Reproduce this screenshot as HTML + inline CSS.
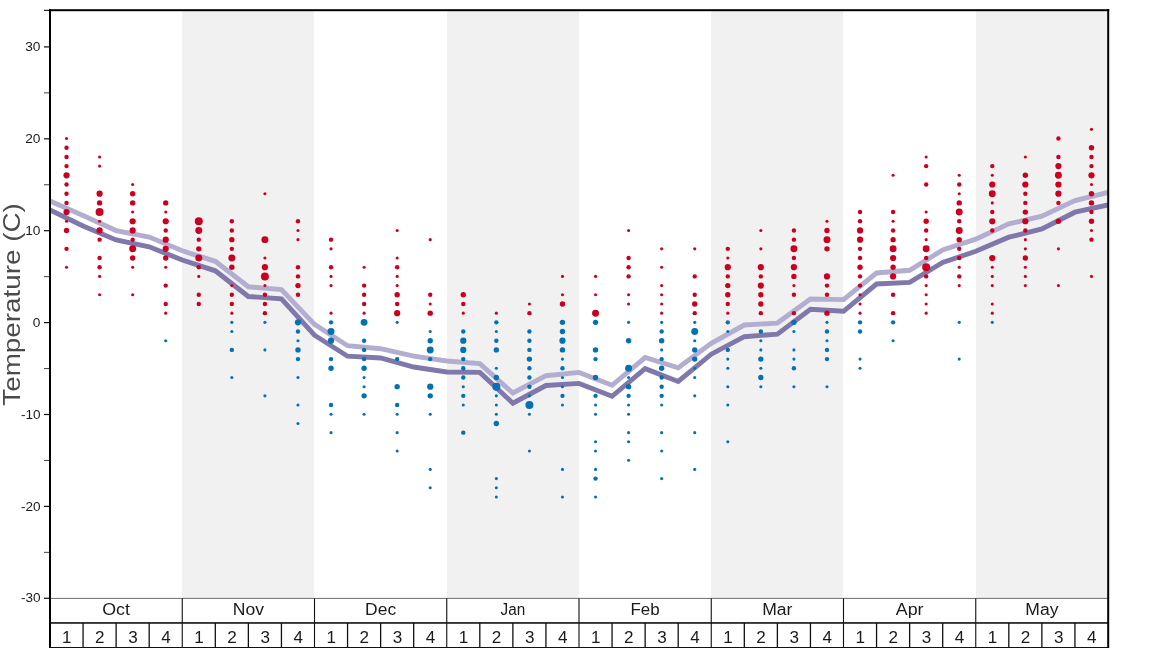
<!DOCTYPE html>
<html lang="en"><head><meta charset="utf-8"><title>Temperature chart</title>
<style>html,body{margin:0;padding:0;background:#fff;}body{width:1168px;height:648px;overflow:hidden;font-family:"Liberation Sans",sans-serif;}svg{display:block;will-change:transform;filter:grayscale(0);}text{font-family:"Liberation Sans",sans-serif;}</style></head><body>
<svg width="1168" height="648" viewBox="0 0 1168 648">
<defs><clipPath id="ax"><rect x="50.00" y="10.00" width="1058.00" height="588.40"/></clipPath></defs>
<rect x="0" y="0" width="1168" height="648" fill="#ffffff"/>
<g fill="#f1f1f1">
<rect x="182" y="10.00" width="132" height="588.40"/>
<rect x="447" y="10.00" width="132" height="588.40"/>
<rect x="711" y="10.00" width="132" height="588.40"/>
<rect x="976" y="10.00" width="132" height="588.40"/>
</g>
<g clip-path="url(#ax)" fill="none" stroke-linejoin="miter" stroke-miterlimit="10" stroke-linecap="butt" stroke-width="4.90">
<polyline stroke="#8077ab" points="50.00,210.00 83.06,226.00 116.12,240.00 149.19,246.75 182.25,260.00 215.31,270.80 248.38,296.50 281.44,298.80 314.50,335.20 347.56,356.20 380.62,358.00 413.69,367.00 446.75,372.00 479.81,372.40 512.88,403.20 545.94,385.50 579.00,383.40 612.06,396.30 645.12,368.60 678.19,381.50 711.25,354.20 744.31,336.70 777.38,334.10 810.44,309.30 843.50,311.30 876.56,284.00 909.62,282.40 942.69,262.50 975.75,251.30 1008.81,237.20 1041.88,229.00 1074.94,212.20 1108.00,205.00"/>
<polyline stroke="#b3aed0" points="50.00,201.00 83.06,215.60 116.12,230.60 149.19,237.10 182.25,250.80 215.31,261.30 248.38,286.80 281.44,289.50 314.50,324.40 347.56,345.70 380.62,348.70 413.69,356.20 446.75,361.00 479.81,363.60 512.88,393.00 545.94,375.70 579.00,372.40 612.06,385.30 645.12,357.50 678.19,367.80 711.25,343.30 744.31,325.00 777.38,323.10 810.44,299.00 843.50,299.60 876.56,273.00 909.62,270.30 942.69,250.00 975.75,239.20 1008.81,223.80 1041.88,216.20 1074.94,200.50 1108.00,192.50"/>
</g>
<g fill="#ca0020"><circle cx="66.53" cy="138.55" r="1.55"/><circle cx="66.53" cy="147.74" r="2.20"/><circle cx="66.53" cy="156.93" r="2.20"/><circle cx="66.53" cy="166.12" r="2.20"/><circle cx="66.53" cy="175.31" r="3.11"/><circle cx="66.53" cy="184.50" r="2.20"/><circle cx="66.53" cy="193.69" r="2.20"/><circle cx="66.53" cy="202.88" r="2.20"/><circle cx="66.53" cy="212.07" r="3.11"/><circle cx="66.53" cy="221.26" r="1.55"/><circle cx="66.53" cy="230.45" r="2.69"/><circle cx="66.53" cy="248.83" r="2.20"/><circle cx="66.53" cy="267.21" r="1.55"/><circle cx="99.59" cy="156.93" r="1.55"/><circle cx="99.59" cy="166.12" r="1.55"/><circle cx="99.59" cy="193.69" r="3.11"/><circle cx="99.59" cy="202.88" r="2.69"/><circle cx="99.59" cy="212.07" r="4.00"/><circle cx="99.59" cy="221.26" r="1.55"/><circle cx="99.59" cy="230.45" r="3.11"/><circle cx="99.59" cy="239.64" r="2.20"/><circle cx="99.59" cy="258.02" r="2.20"/><circle cx="99.59" cy="267.21" r="2.20"/><circle cx="99.59" cy="276.40" r="1.55"/><circle cx="99.59" cy="294.78" r="1.55"/><circle cx="132.66" cy="184.50" r="1.55"/><circle cx="132.66" cy="193.69" r="2.69"/><circle cx="132.66" cy="202.88" r="2.69"/><circle cx="132.66" cy="212.07" r="1.55"/><circle cx="132.66" cy="221.26" r="3.11"/><circle cx="132.66" cy="230.45" r="3.11"/><circle cx="132.66" cy="239.64" r="2.20"/><circle cx="132.66" cy="248.83" r="3.47"/><circle cx="132.66" cy="258.02" r="2.69"/><circle cx="132.66" cy="267.21" r="1.55"/><circle cx="132.66" cy="294.78" r="1.55"/><circle cx="165.72" cy="202.88" r="2.69"/><circle cx="165.72" cy="212.07" r="1.55"/><circle cx="165.72" cy="221.26" r="3.11"/><circle cx="165.72" cy="230.45" r="2.20"/><circle cx="165.72" cy="239.64" r="3.11"/><circle cx="165.72" cy="248.83" r="3.11"/><circle cx="165.72" cy="258.02" r="2.69"/><circle cx="165.72" cy="267.21" r="1.55"/><circle cx="165.72" cy="285.59" r="2.20"/><circle cx="165.72" cy="303.97" r="2.20"/><circle cx="165.72" cy="313.16" r="1.55"/><circle cx="198.78" cy="221.26" r="4.00"/><circle cx="198.78" cy="230.45" r="3.47"/><circle cx="198.78" cy="239.64" r="2.20"/><circle cx="198.78" cy="248.83" r="2.69"/><circle cx="198.78" cy="258.02" r="3.47"/><circle cx="198.78" cy="267.21" r="2.20"/><circle cx="198.78" cy="276.40" r="1.55"/><circle cx="198.78" cy="294.78" r="2.20"/><circle cx="198.78" cy="303.97" r="2.20"/><circle cx="231.84" cy="221.26" r="2.20"/><circle cx="231.84" cy="230.45" r="2.20"/><circle cx="231.84" cy="239.64" r="2.69"/><circle cx="231.84" cy="248.83" r="2.20"/><circle cx="231.84" cy="258.02" r="3.47"/><circle cx="231.84" cy="267.21" r="2.69"/><circle cx="231.84" cy="285.59" r="1.55"/><circle cx="231.84" cy="294.78" r="2.20"/><circle cx="231.84" cy="303.97" r="2.20"/><circle cx="231.84" cy="313.16" r="1.55"/><circle cx="264.91" cy="193.69" r="1.55"/><circle cx="264.91" cy="239.64" r="3.47"/><circle cx="264.91" cy="258.02" r="1.55"/><circle cx="264.91" cy="267.21" r="3.11"/><circle cx="264.91" cy="276.40" r="4.00"/><circle cx="264.91" cy="285.59" r="1.55"/><circle cx="264.91" cy="294.78" r="2.20"/><circle cx="264.91" cy="303.97" r="2.20"/><circle cx="264.91" cy="313.16" r="2.20"/><circle cx="297.97" cy="221.26" r="2.20"/><circle cx="297.97" cy="230.45" r="1.55"/><circle cx="297.97" cy="239.64" r="1.55"/><circle cx="297.97" cy="267.21" r="2.20"/><circle cx="297.97" cy="276.40" r="2.20"/><circle cx="297.97" cy="285.59" r="2.69"/><circle cx="297.97" cy="294.78" r="2.20"/><circle cx="331.03" cy="239.64" r="2.20"/><circle cx="331.03" cy="248.83" r="1.55"/><circle cx="331.03" cy="267.21" r="2.20"/><circle cx="331.03" cy="276.40" r="1.55"/><circle cx="331.03" cy="285.59" r="1.55"/><circle cx="331.03" cy="313.16" r="1.55"/><circle cx="364.09" cy="267.21" r="1.55"/><circle cx="364.09" cy="285.59" r="2.20"/><circle cx="364.09" cy="294.78" r="2.20"/><circle cx="364.09" cy="303.97" r="2.20"/><circle cx="364.09" cy="313.16" r="1.55"/><circle cx="397.16" cy="230.45" r="1.55"/><circle cx="397.16" cy="258.02" r="1.55"/><circle cx="397.16" cy="267.21" r="2.20"/><circle cx="397.16" cy="276.40" r="1.55"/><circle cx="397.16" cy="285.59" r="1.55"/><circle cx="397.16" cy="294.78" r="2.69"/><circle cx="397.16" cy="303.97" r="2.20"/><circle cx="397.16" cy="313.16" r="3.11"/><circle cx="430.22" cy="239.64" r="1.55"/><circle cx="430.22" cy="294.78" r="2.20"/><circle cx="430.22" cy="303.97" r="1.55"/><circle cx="430.22" cy="313.16" r="2.69"/><circle cx="463.28" cy="294.78" r="2.69"/><circle cx="463.28" cy="303.97" r="2.20"/><circle cx="463.28" cy="313.16" r="1.55"/><circle cx="496.34" cy="313.16" r="1.55"/><circle cx="529.41" cy="303.97" r="1.55"/><circle cx="529.41" cy="313.16" r="2.20"/><circle cx="562.47" cy="276.40" r="1.55"/><circle cx="562.47" cy="294.78" r="1.55"/><circle cx="562.47" cy="303.97" r="2.69"/><circle cx="595.53" cy="276.40" r="1.55"/><circle cx="595.53" cy="294.78" r="1.55"/><circle cx="595.53" cy="313.16" r="3.47"/><circle cx="628.59" cy="230.45" r="1.55"/><circle cx="628.59" cy="258.02" r="2.20"/><circle cx="628.59" cy="267.21" r="2.20"/><circle cx="628.59" cy="276.40" r="2.20"/><circle cx="628.59" cy="294.78" r="1.55"/><circle cx="628.59" cy="303.97" r="1.55"/><circle cx="661.66" cy="248.83" r="1.55"/><circle cx="661.66" cy="267.21" r="1.55"/><circle cx="661.66" cy="285.59" r="1.55"/><circle cx="661.66" cy="294.78" r="1.55"/><circle cx="661.66" cy="303.97" r="1.55"/><circle cx="661.66" cy="313.16" r="1.55"/><circle cx="694.72" cy="248.83" r="1.55"/><circle cx="694.72" cy="276.40" r="2.20"/><circle cx="694.72" cy="294.78" r="2.20"/><circle cx="694.72" cy="303.97" r="2.69"/><circle cx="694.72" cy="313.16" r="2.20"/><circle cx="727.78" cy="248.83" r="2.20"/><circle cx="727.78" cy="258.02" r="1.55"/><circle cx="727.78" cy="267.21" r="3.11"/><circle cx="727.78" cy="276.40" r="2.20"/><circle cx="727.78" cy="285.59" r="2.69"/><circle cx="727.78" cy="294.78" r="2.69"/><circle cx="727.78" cy="303.97" r="2.20"/><circle cx="727.78" cy="313.16" r="1.55"/><circle cx="760.84" cy="230.45" r="1.55"/><circle cx="760.84" cy="248.83" r="1.55"/><circle cx="760.84" cy="267.21" r="3.11"/><circle cx="760.84" cy="276.40" r="2.20"/><circle cx="760.84" cy="285.59" r="3.11"/><circle cx="760.84" cy="294.78" r="2.69"/><circle cx="760.84" cy="303.97" r="2.69"/><circle cx="760.84" cy="313.16" r="2.20"/><circle cx="793.91" cy="230.45" r="2.20"/><circle cx="793.91" cy="239.64" r="2.20"/><circle cx="793.91" cy="248.83" r="3.47"/><circle cx="793.91" cy="258.02" r="2.20"/><circle cx="793.91" cy="267.21" r="3.11"/><circle cx="793.91" cy="276.40" r="2.69"/><circle cx="793.91" cy="285.59" r="1.55"/><circle cx="793.91" cy="294.78" r="2.20"/><circle cx="793.91" cy="313.16" r="2.20"/><circle cx="826.97" cy="221.26" r="1.55"/><circle cx="826.97" cy="230.45" r="2.69"/><circle cx="826.97" cy="239.64" r="3.47"/><circle cx="826.97" cy="248.83" r="2.69"/><circle cx="826.97" cy="276.40" r="3.11"/><circle cx="826.97" cy="285.59" r="2.20"/><circle cx="826.97" cy="294.78" r="2.20"/><circle cx="826.97" cy="313.16" r="2.69"/><circle cx="860.03" cy="212.07" r="2.20"/><circle cx="860.03" cy="221.26" r="2.20"/><circle cx="860.03" cy="230.45" r="3.11"/><circle cx="860.03" cy="239.64" r="3.11"/><circle cx="860.03" cy="248.83" r="2.20"/><circle cx="860.03" cy="258.02" r="2.20"/><circle cx="860.03" cy="267.21" r="2.69"/><circle cx="860.03" cy="276.40" r="2.20"/><circle cx="860.03" cy="285.59" r="2.20"/><circle cx="860.03" cy="294.78" r="1.55"/><circle cx="860.03" cy="303.97" r="1.55"/><circle cx="860.03" cy="313.16" r="1.55"/><circle cx="893.09" cy="175.31" r="1.55"/><circle cx="893.09" cy="212.07" r="2.20"/><circle cx="893.09" cy="221.26" r="1.55"/><circle cx="893.09" cy="230.45" r="2.20"/><circle cx="893.09" cy="239.64" r="2.69"/><circle cx="893.09" cy="248.83" r="3.47"/><circle cx="893.09" cy="258.02" r="3.11"/><circle cx="893.09" cy="267.21" r="2.69"/><circle cx="893.09" cy="276.40" r="3.11"/><circle cx="893.09" cy="294.78" r="2.20"/><circle cx="893.09" cy="313.16" r="2.20"/><circle cx="926.16" cy="156.93" r="1.55"/><circle cx="926.16" cy="166.12" r="2.20"/><circle cx="926.16" cy="184.50" r="2.20"/><circle cx="926.16" cy="212.07" r="1.55"/><circle cx="926.16" cy="221.26" r="2.69"/><circle cx="926.16" cy="230.45" r="2.20"/><circle cx="926.16" cy="239.64" r="1.55"/><circle cx="926.16" cy="248.83" r="3.47"/><circle cx="926.16" cy="258.02" r="2.20"/><circle cx="926.16" cy="267.21" r="4.00"/><circle cx="926.16" cy="276.40" r="2.20"/><circle cx="926.16" cy="285.59" r="1.55"/><circle cx="926.16" cy="294.78" r="1.55"/><circle cx="926.16" cy="303.97" r="1.55"/><circle cx="926.16" cy="313.16" r="1.55"/><circle cx="959.22" cy="175.31" r="1.55"/><circle cx="959.22" cy="184.50" r="2.20"/><circle cx="959.22" cy="193.69" r="1.55"/><circle cx="959.22" cy="202.88" r="2.69"/><circle cx="959.22" cy="212.07" r="3.47"/><circle cx="959.22" cy="221.26" r="2.20"/><circle cx="959.22" cy="230.45" r="3.47"/><circle cx="959.22" cy="239.64" r="2.69"/><circle cx="959.22" cy="248.83" r="2.20"/><circle cx="959.22" cy="258.02" r="2.20"/><circle cx="959.22" cy="267.21" r="1.55"/><circle cx="959.22" cy="276.40" r="2.20"/><circle cx="959.22" cy="285.59" r="1.55"/><circle cx="992.28" cy="166.12" r="2.20"/><circle cx="992.28" cy="175.31" r="1.55"/><circle cx="992.28" cy="184.50" r="3.11"/><circle cx="992.28" cy="193.69" r="3.47"/><circle cx="992.28" cy="202.88" r="1.55"/><circle cx="992.28" cy="212.07" r="2.20"/><circle cx="992.28" cy="221.26" r="3.11"/><circle cx="992.28" cy="230.45" r="2.20"/><circle cx="992.28" cy="258.02" r="3.11"/><circle cx="992.28" cy="267.21" r="1.55"/><circle cx="992.28" cy="276.40" r="1.55"/><circle cx="992.28" cy="285.59" r="1.55"/><circle cx="992.28" cy="303.97" r="1.55"/><circle cx="992.28" cy="313.16" r="1.55"/><circle cx="1025.34" cy="156.93" r="1.55"/><circle cx="1025.34" cy="175.31" r="2.69"/><circle cx="1025.34" cy="184.50" r="3.11"/><circle cx="1025.34" cy="193.69" r="2.20"/><circle cx="1025.34" cy="202.88" r="2.20"/><circle cx="1025.34" cy="212.07" r="2.69"/><circle cx="1025.34" cy="221.26" r="3.11"/><circle cx="1025.34" cy="230.45" r="2.20"/><circle cx="1025.34" cy="239.64" r="1.55"/><circle cx="1025.34" cy="248.83" r="1.55"/><circle cx="1025.34" cy="258.02" r="2.69"/><circle cx="1025.34" cy="267.21" r="1.55"/><circle cx="1025.34" cy="276.40" r="1.55"/><circle cx="1025.34" cy="285.59" r="1.55"/><circle cx="1058.41" cy="138.55" r="2.20"/><circle cx="1058.41" cy="156.93" r="2.20"/><circle cx="1058.41" cy="166.12" r="3.11"/><circle cx="1058.41" cy="175.31" r="3.47"/><circle cx="1058.41" cy="184.50" r="3.11"/><circle cx="1058.41" cy="193.69" r="3.11"/><circle cx="1058.41" cy="202.88" r="2.20"/><circle cx="1058.41" cy="221.26" r="2.69"/><circle cx="1058.41" cy="248.83" r="1.55"/><circle cx="1058.41" cy="285.59" r="1.55"/><circle cx="1091.47" cy="129.36" r="1.55"/><circle cx="1091.47" cy="147.74" r="2.69"/><circle cx="1091.47" cy="156.93" r="2.20"/><circle cx="1091.47" cy="166.12" r="2.20"/><circle cx="1091.47" cy="175.31" r="3.11"/><circle cx="1091.47" cy="184.50" r="1.55"/><circle cx="1091.47" cy="193.69" r="2.69"/><circle cx="1091.47" cy="202.88" r="2.69"/><circle cx="1091.47" cy="212.07" r="2.20"/><circle cx="1091.47" cy="221.26" r="2.69"/><circle cx="1091.47" cy="230.45" r="1.55"/><circle cx="1091.47" cy="239.64" r="2.20"/><circle cx="1091.47" cy="276.40" r="1.55"/></g>
<g fill="#0571b0"><circle cx="165.72" cy="340.73" r="1.55"/><circle cx="231.84" cy="322.35" r="1.55"/><circle cx="231.84" cy="331.54" r="1.55"/><circle cx="231.84" cy="349.92" r="2.20"/><circle cx="231.84" cy="377.49" r="1.55"/><circle cx="264.91" cy="322.35" r="1.55"/><circle cx="264.91" cy="349.92" r="1.55"/><circle cx="264.91" cy="395.87" r="1.55"/><circle cx="297.97" cy="322.35" r="3.11"/><circle cx="297.97" cy="331.54" r="2.20"/><circle cx="297.97" cy="340.73" r="1.55"/><circle cx="297.97" cy="349.92" r="2.69"/><circle cx="297.97" cy="359.11" r="2.20"/><circle cx="297.97" cy="377.49" r="1.55"/><circle cx="297.97" cy="405.06" r="1.55"/><circle cx="297.97" cy="423.44" r="1.55"/><circle cx="331.03" cy="322.35" r="2.20"/><circle cx="331.03" cy="331.54" r="3.47"/><circle cx="331.03" cy="340.73" r="3.11"/><circle cx="331.03" cy="359.11" r="2.20"/><circle cx="331.03" cy="368.30" r="2.69"/><circle cx="331.03" cy="405.06" r="2.20"/><circle cx="331.03" cy="414.25" r="1.55"/><circle cx="331.03" cy="432.63" r="1.55"/><circle cx="364.09" cy="322.35" r="3.47"/><circle cx="364.09" cy="340.73" r="2.20"/><circle cx="364.09" cy="349.92" r="2.20"/><circle cx="364.09" cy="359.11" r="2.20"/><circle cx="364.09" cy="368.30" r="2.69"/><circle cx="364.09" cy="377.49" r="1.55"/><circle cx="364.09" cy="386.68" r="1.55"/><circle cx="364.09" cy="395.87" r="2.69"/><circle cx="364.09" cy="414.25" r="1.55"/><circle cx="397.16" cy="322.35" r="1.55"/><circle cx="397.16" cy="359.11" r="2.20"/><circle cx="397.16" cy="386.68" r="2.69"/><circle cx="397.16" cy="405.06" r="2.20"/><circle cx="397.16" cy="414.25" r="1.55"/><circle cx="397.16" cy="432.63" r="1.55"/><circle cx="397.16" cy="451.01" r="1.55"/><circle cx="430.22" cy="331.54" r="1.55"/><circle cx="430.22" cy="340.73" r="2.69"/><circle cx="430.22" cy="349.92" r="3.47"/><circle cx="430.22" cy="359.11" r="2.20"/><circle cx="430.22" cy="386.68" r="3.11"/><circle cx="430.22" cy="395.87" r="2.69"/><circle cx="430.22" cy="414.25" r="1.55"/><circle cx="430.22" cy="469.39" r="1.55"/><circle cx="430.22" cy="487.77" r="1.55"/><circle cx="463.28" cy="331.54" r="2.20"/><circle cx="463.28" cy="340.73" r="3.11"/><circle cx="463.28" cy="349.92" r="3.11"/><circle cx="463.28" cy="359.11" r="2.20"/><circle cx="463.28" cy="368.30" r="2.20"/><circle cx="463.28" cy="377.49" r="2.20"/><circle cx="463.28" cy="386.68" r="1.55"/><circle cx="463.28" cy="395.87" r="2.20"/><circle cx="463.28" cy="405.06" r="1.55"/><circle cx="463.28" cy="432.63" r="2.20"/><circle cx="496.34" cy="322.35" r="2.20"/><circle cx="496.34" cy="331.54" r="1.55"/><circle cx="496.34" cy="340.73" r="2.20"/><circle cx="496.34" cy="349.92" r="2.69"/><circle cx="496.34" cy="368.30" r="1.55"/><circle cx="496.34" cy="377.49" r="2.69"/><circle cx="496.34" cy="386.68" r="4.00"/><circle cx="496.34" cy="395.87" r="1.55"/><circle cx="496.34" cy="405.06" r="1.55"/><circle cx="496.34" cy="414.25" r="1.55"/><circle cx="496.34" cy="423.44" r="2.69"/><circle cx="496.34" cy="478.58" r="1.55"/><circle cx="496.34" cy="487.77" r="1.55"/><circle cx="496.34" cy="496.96" r="1.55"/><circle cx="529.41" cy="331.54" r="2.20"/><circle cx="529.41" cy="340.73" r="2.20"/><circle cx="529.41" cy="349.92" r="2.20"/><circle cx="529.41" cy="359.11" r="2.69"/><circle cx="529.41" cy="368.30" r="2.20"/><circle cx="529.41" cy="377.49" r="2.20"/><circle cx="529.41" cy="386.68" r="2.20"/><circle cx="529.41" cy="395.87" r="1.55"/><circle cx="529.41" cy="405.06" r="4.00"/><circle cx="529.41" cy="414.25" r="1.55"/><circle cx="529.41" cy="451.01" r="1.55"/><circle cx="562.47" cy="322.35" r="2.69"/><circle cx="562.47" cy="331.54" r="2.69"/><circle cx="562.47" cy="340.73" r="3.11"/><circle cx="562.47" cy="349.92" r="2.69"/><circle cx="562.47" cy="359.11" r="1.55"/><circle cx="562.47" cy="368.30" r="2.20"/><circle cx="562.47" cy="377.49" r="1.55"/><circle cx="562.47" cy="386.68" r="1.55"/><circle cx="562.47" cy="395.87" r="2.20"/><circle cx="562.47" cy="405.06" r="1.55"/><circle cx="562.47" cy="469.39" r="1.55"/><circle cx="562.47" cy="496.96" r="1.55"/><circle cx="595.53" cy="322.35" r="2.69"/><circle cx="595.53" cy="349.92" r="2.69"/><circle cx="595.53" cy="359.11" r="2.20"/><circle cx="595.53" cy="377.49" r="2.69"/><circle cx="595.53" cy="395.87" r="2.20"/><circle cx="595.53" cy="405.06" r="1.55"/><circle cx="595.53" cy="414.25" r="1.55"/><circle cx="595.53" cy="441.82" r="1.55"/><circle cx="595.53" cy="451.01" r="1.55"/><circle cx="595.53" cy="469.39" r="1.55"/><circle cx="595.53" cy="478.58" r="2.20"/><circle cx="595.53" cy="496.96" r="1.55"/><circle cx="628.59" cy="322.35" r="1.55"/><circle cx="628.59" cy="340.73" r="2.69"/><circle cx="628.59" cy="368.30" r="3.47"/><circle cx="628.59" cy="377.49" r="1.55"/><circle cx="628.59" cy="386.68" r="2.69"/><circle cx="628.59" cy="395.87" r="2.20"/><circle cx="628.59" cy="405.06" r="1.55"/><circle cx="628.59" cy="414.25" r="1.55"/><circle cx="628.59" cy="432.63" r="1.55"/><circle cx="628.59" cy="441.82" r="1.55"/><circle cx="628.59" cy="460.20" r="1.55"/><circle cx="661.66" cy="322.35" r="1.55"/><circle cx="661.66" cy="331.54" r="2.20"/><circle cx="661.66" cy="340.73" r="2.69"/><circle cx="661.66" cy="349.92" r="1.55"/><circle cx="661.66" cy="359.11" r="2.20"/><circle cx="661.66" cy="368.30" r="2.69"/><circle cx="661.66" cy="377.49" r="2.20"/><circle cx="661.66" cy="386.68" r="2.20"/><circle cx="661.66" cy="395.87" r="2.20"/><circle cx="661.66" cy="405.06" r="1.55"/><circle cx="661.66" cy="432.63" r="1.55"/><circle cx="661.66" cy="451.01" r="1.55"/><circle cx="661.66" cy="478.58" r="1.55"/><circle cx="694.72" cy="322.35" r="1.55"/><circle cx="694.72" cy="331.54" r="3.47"/><circle cx="694.72" cy="340.73" r="1.55"/><circle cx="694.72" cy="349.92" r="2.69"/><circle cx="694.72" cy="359.11" r="2.69"/><circle cx="694.72" cy="368.30" r="1.55"/><circle cx="694.72" cy="377.49" r="1.55"/><circle cx="694.72" cy="395.87" r="1.55"/><circle cx="694.72" cy="432.63" r="1.55"/><circle cx="694.72" cy="469.39" r="1.55"/><circle cx="727.78" cy="322.35" r="2.20"/><circle cx="727.78" cy="331.54" r="1.55"/><circle cx="727.78" cy="349.92" r="2.20"/><circle cx="727.78" cy="359.11" r="1.55"/><circle cx="727.78" cy="368.30" r="1.55"/><circle cx="727.78" cy="386.68" r="1.55"/><circle cx="727.78" cy="405.06" r="1.55"/><circle cx="727.78" cy="441.82" r="1.55"/><circle cx="760.84" cy="331.54" r="2.20"/><circle cx="760.84" cy="340.73" r="1.55"/><circle cx="760.84" cy="349.92" r="1.55"/><circle cx="760.84" cy="359.11" r="2.69"/><circle cx="760.84" cy="368.30" r="1.55"/><circle cx="760.84" cy="377.49" r="2.69"/><circle cx="760.84" cy="386.68" r="1.55"/><circle cx="793.91" cy="322.35" r="2.69"/><circle cx="793.91" cy="331.54" r="1.55"/><circle cx="793.91" cy="349.92" r="1.55"/><circle cx="793.91" cy="359.11" r="1.55"/><circle cx="793.91" cy="368.30" r="2.20"/><circle cx="793.91" cy="386.68" r="1.55"/><circle cx="826.97" cy="322.35" r="1.55"/><circle cx="826.97" cy="331.54" r="2.20"/><circle cx="826.97" cy="340.73" r="1.55"/><circle cx="826.97" cy="349.92" r="2.20"/><circle cx="826.97" cy="359.11" r="2.20"/><circle cx="826.97" cy="386.68" r="1.55"/><circle cx="860.03" cy="322.35" r="2.20"/><circle cx="860.03" cy="331.54" r="2.20"/><circle cx="860.03" cy="359.11" r="1.55"/><circle cx="860.03" cy="368.30" r="1.55"/><circle cx="893.09" cy="322.35" r="2.20"/><circle cx="893.09" cy="340.73" r="1.55"/><circle cx="959.22" cy="322.35" r="1.55"/><circle cx="959.22" cy="359.11" r="1.55"/><circle cx="992.28" cy="322.35" r="1.55"/></g>
<rect x="50.00" y="597.90" width="1058.00" height="1" fill="#6e6e6e"/>
<g fill="#111111">
<rect x="50.00" y="622.15" width="1058.00" height="1.6"/>
<rect x="50.00" y="647" width="1058.00" height="1"/>
<rect x="82.41" y="623.00" width="1.3" height="25.00"/>
<rect x="115.47" y="623.00" width="1.3" height="25.00"/>
<rect x="148.54" y="623.00" width="1.3" height="25.00"/>
<rect x="181.70" y="598.40" width="1.1" height="49.60"/>
<rect x="214.66" y="623.00" width="1.3" height="25.00"/>
<rect x="247.72" y="623.00" width="1.3" height="25.00"/>
<rect x="280.79" y="623.00" width="1.3" height="25.00"/>
<rect x="313.95" y="598.40" width="1.1" height="49.60"/>
<rect x="346.91" y="623.00" width="1.3" height="25.00"/>
<rect x="379.98" y="623.00" width="1.3" height="25.00"/>
<rect x="413.04" y="623.00" width="1.3" height="25.00"/>
<rect x="446.20" y="598.40" width="1.1" height="49.60"/>
<rect x="479.16" y="623.00" width="1.3" height="25.00"/>
<rect x="512.23" y="623.00" width="1.3" height="25.00"/>
<rect x="545.29" y="623.00" width="1.3" height="25.00"/>
<rect x="578.45" y="598.40" width="1.1" height="49.60"/>
<rect x="611.41" y="623.00" width="1.3" height="25.00"/>
<rect x="644.48" y="623.00" width="1.3" height="25.00"/>
<rect x="677.54" y="623.00" width="1.3" height="25.00"/>
<rect x="710.70" y="598.40" width="1.1" height="49.60"/>
<rect x="743.66" y="623.00" width="1.3" height="25.00"/>
<rect x="776.73" y="623.00" width="1.3" height="25.00"/>
<rect x="809.79" y="623.00" width="1.3" height="25.00"/>
<rect x="842.95" y="598.40" width="1.1" height="49.60"/>
<rect x="875.91" y="623.00" width="1.3" height="25.00"/>
<rect x="908.98" y="623.00" width="1.3" height="25.00"/>
<rect x="942.04" y="623.00" width="1.3" height="25.00"/>
<rect x="975.20" y="598.40" width="1.1" height="49.60"/>
<rect x="1008.16" y="623.00" width="1.3" height="25.00"/>
<rect x="1041.22" y="623.00" width="1.3" height="25.00"/>
<rect x="1074.29" y="623.00" width="1.3" height="25.00"/>
</g>
<g fill="#000000">
<rect x="49" y="9" width="2" height="639"/>
<rect x="1107.2" y="9" width="2" height="639"/>
<rect x="49" y="9.2" width="1060.2" height="2"/>
<rect x="44" y="9.8" width="5" height="1.1" fill="#111"/>
</g>
<g>
<rect x="44" y="597.70" width="5" height="1.2" fill="#111"/>
<rect x="44" y="551.85" width="5" height="1" fill="#444"/>
<rect x="44" y="505.80" width="5" height="1.2" fill="#111"/>
<rect x="44" y="459.95" width="5" height="1" fill="#444"/>
<rect x="44" y="413.90" width="5" height="1.2" fill="#111"/>
<rect x="44" y="368.05" width="5" height="1" fill="#444"/>
<rect x="44" y="322.00" width="5" height="1.2" fill="#111"/>
<rect x="44" y="276.15" width="5" height="1" fill="#444"/>
<rect x="44" y="230.10" width="5" height="1.2" fill="#111"/>
<rect x="44" y="184.25" width="5" height="1" fill="#444"/>
<rect x="44" y="138.20" width="5" height="1.2" fill="#111"/>
<rect x="44" y="92.35" width="5" height="1" fill="#444"/>
<rect x="44" y="46.30" width="5" height="1.2" fill="#111"/>
</g>
<g font-family="Liberation Sans, sans-serif" font-size="12px" fill="#1a1a1a" text-anchor="end">
<text x="40.5" y="601.75" textLength="19.59" lengthAdjust="spacingAndGlyphs">-30</text>
<text x="40.5" y="510.75" textLength="19.59" lengthAdjust="spacingAndGlyphs">-20</text>
<text x="40.5" y="418.85" textLength="19.59" lengthAdjust="spacingAndGlyphs">-10</text>
<text x="40.5" y="326.95" textLength="7.63" lengthAdjust="spacingAndGlyphs">0</text>
<text x="40.5" y="235.05" textLength="15.26" lengthAdjust="spacingAndGlyphs">10</text>
<text x="40.5" y="143.15" textLength="15.26" lengthAdjust="spacingAndGlyphs">20</text>
<text x="40.5" y="51.25" textLength="15.26" lengthAdjust="spacingAndGlyphs">30</text>
</g>
<g font-family="Liberation Sans, sans-serif" font-size="16px" fill="#1a1a1a" text-anchor="middle">
<text x="116.12" y="615" textLength="27.66" lengthAdjust="spacingAndGlyphs">Oct</text>
<text x="248.38" y="615" textLength="31.20" lengthAdjust="spacingAndGlyphs">Nov</text>
<text x="380.62" y="615" textLength="30.96" lengthAdjust="spacingAndGlyphs">Dec</text>
<text x="512.88" y="615" textLength="24.70" lengthAdjust="spacingAndGlyphs">Jan</text>
<text x="645.12" y="615" textLength="29.20" lengthAdjust="spacingAndGlyphs">Feb</text>
<text x="777.38" y="615" textLength="30.20" lengthAdjust="spacingAndGlyphs">Mar</text>
<text x="909.62" y="615" textLength="27.70" lengthAdjust="spacingAndGlyphs">Apr</text>
<text x="1041.88" y="615" textLength="33.10" lengthAdjust="spacingAndGlyphs">May</text>
<text x="66.83" y="642.8" textLength="9.5" lengthAdjust="spacingAndGlyphs">1</text>
<text x="99.89" y="642.8" textLength="9.5" lengthAdjust="spacingAndGlyphs">2</text>
<text x="132.96" y="642.8" textLength="9.5" lengthAdjust="spacingAndGlyphs">3</text>
<text x="166.02" y="642.8" textLength="9.5" lengthAdjust="spacingAndGlyphs">4</text>
<text x="199.08" y="642.8" textLength="9.5" lengthAdjust="spacingAndGlyphs">1</text>
<text x="232.14" y="642.8" textLength="9.5" lengthAdjust="spacingAndGlyphs">2</text>
<text x="265.21" y="642.8" textLength="9.5" lengthAdjust="spacingAndGlyphs">3</text>
<text x="298.27" y="642.8" textLength="9.5" lengthAdjust="spacingAndGlyphs">4</text>
<text x="331.33" y="642.8" textLength="9.5" lengthAdjust="spacingAndGlyphs">1</text>
<text x="364.39" y="642.8" textLength="9.5" lengthAdjust="spacingAndGlyphs">2</text>
<text x="397.46" y="642.8" textLength="9.5" lengthAdjust="spacingAndGlyphs">3</text>
<text x="430.52" y="642.8" textLength="9.5" lengthAdjust="spacingAndGlyphs">4</text>
<text x="463.58" y="642.8" textLength="9.5" lengthAdjust="spacingAndGlyphs">1</text>
<text x="496.64" y="642.8" textLength="9.5" lengthAdjust="spacingAndGlyphs">2</text>
<text x="529.71" y="642.8" textLength="9.5" lengthAdjust="spacingAndGlyphs">3</text>
<text x="562.77" y="642.8" textLength="9.5" lengthAdjust="spacingAndGlyphs">4</text>
<text x="595.83" y="642.8" textLength="9.5" lengthAdjust="spacingAndGlyphs">1</text>
<text x="628.89" y="642.8" textLength="9.5" lengthAdjust="spacingAndGlyphs">2</text>
<text x="661.96" y="642.8" textLength="9.5" lengthAdjust="spacingAndGlyphs">3</text>
<text x="695.02" y="642.8" textLength="9.5" lengthAdjust="spacingAndGlyphs">4</text>
<text x="728.08" y="642.8" textLength="9.5" lengthAdjust="spacingAndGlyphs">1</text>
<text x="761.14" y="642.8" textLength="9.5" lengthAdjust="spacingAndGlyphs">2</text>
<text x="794.21" y="642.8" textLength="9.5" lengthAdjust="spacingAndGlyphs">3</text>
<text x="827.27" y="642.8" textLength="9.5" lengthAdjust="spacingAndGlyphs">4</text>
<text x="860.33" y="642.8" textLength="9.5" lengthAdjust="spacingAndGlyphs">1</text>
<text x="893.39" y="642.8" textLength="9.5" lengthAdjust="spacingAndGlyphs">2</text>
<text x="926.46" y="642.8" textLength="9.5" lengthAdjust="spacingAndGlyphs">3</text>
<text x="959.52" y="642.8" textLength="9.5" lengthAdjust="spacingAndGlyphs">4</text>
<text x="992.58" y="642.8" textLength="9.5" lengthAdjust="spacingAndGlyphs">1</text>
<text x="1025.64" y="642.8" textLength="9.5" lengthAdjust="spacingAndGlyphs">2</text>
<text x="1058.71" y="642.8" textLength="9.5" lengthAdjust="spacingAndGlyphs">3</text>
<text x="1091.77" y="642.8" textLength="9.5" lengthAdjust="spacingAndGlyphs">4</text>
</g>
<text font-family="Liberation Sans, sans-serif" font-size="24.5px" fill="#4a4a4a" text-anchor="middle" transform="translate(20.3,304.5) rotate(-90)" textLength="202.5" lengthAdjust="spacingAndGlyphs">Temperature (C)</text>
</svg></body></html>
